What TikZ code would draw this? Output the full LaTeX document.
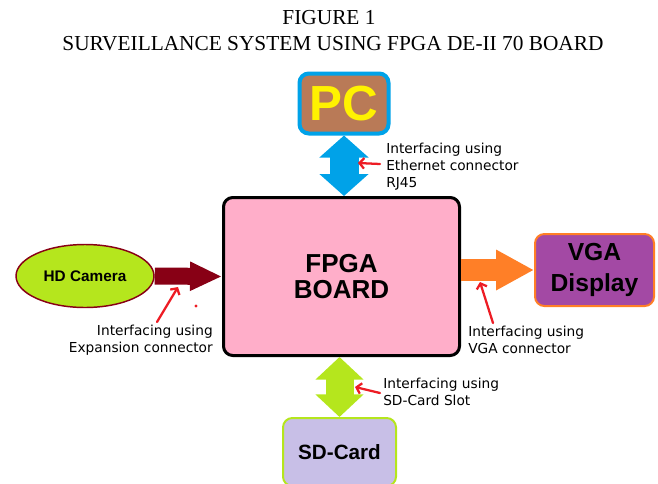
\documentclass[tikz,border=0pt]{standalone}
\usepackage{fontspec}
\setmainfont{Liberation Serif}
\newfontfamily\heavyfont{Liberation Sans}
\newfontfamily\handfont{DejaVu Sans}
\usetikzlibrary{arrows.meta,positioning,shapes.geometric}

\definecolor{pcblue}{HTML}{00A2E8}
\definecolor{pcbrown}{HTML}{B97A57}
\definecolor{pcyellow}{HTML}{FFF200}
\definecolor{boardpink}{HTML}{FFAEC9}
\definecolor{camred}{HTML}{880015}
\definecolor{camlime}{HTML}{B5E61D}
\definecolor{vgaorange}{HTML}{FF7F27}
\definecolor{vgapurple}{HTML}{A349A4}
\definecolor{sdlilac}{HTML}{C8BFE7}
\definecolor{markred}{HTML}{ED1C24}

\begin{document}
\begin{tikzpicture}[x=0.75pt,y=-0.75pt,
    node distance = 0mm,
every node/.style = {inner sep=2pt},
  box/.style     = {draw, rounded corners=7pt, inner sep=0pt, align=center,
                    font=\heavyfont\bfseries},
  note/.style    = {inner sep=0pt, font=\handfont\fontsize{10.3}{12.75}\selectfont},
  pointer/.style = {draw=markred, line width=1.7pt, line cap=round,
                    -{Straight Barb[length=3.5pt,width=8pt]}}]
\useasboundingbox (0,0) rectangle (658,483);
% title
\node (fig)   at (329,18) {\fontsize{16}{18}\selectfont FIGURE 1};
\node (title) at (333,44) {\fontsize{16}{18}\selectfont SURVEILLANCE SYSTEM USING FPGA DE-II 70 BOARD};
% blocks
\node[box, fill=boardpink, line width=2.25pt, minimum width=177pt, minimum height=118.5pt,
      font=\heavyfont\bfseries\fontsize{19.5}{18}\selectfont]
      (fpga) at (341.5,276.5) {FPGA\\[1pt]BOARD};
\node[box, fill=pcbrown, draw=pcblue, line width=3pt, minimum width=66.75pt, minimum height=45pt,
      text=pcyellow, font=\heavyfont\bfseries\fontsize{37}{37}\selectfont]
      (pc) at (344,103.5) {PC};
\node[box, fill=vgapurple, draw=vgaorange, line width=1.5pt, minimum width=89.25pt, minimum height=54pt,
      font=\heavyfont\bfseries\fontsize{18.5}{23}\selectfont]
      (vga) at (594.5,270) {VGA\\Display};
\node[box, fill=sdlilac, draw=camlime, line width=1.5pt, minimum width=84.75pt, minimum height=51pt,
      font=\heavyfont\bfseries\fontsize{15.5}{15}\selectfont]
      (sd) at (339.5,452) {SD-Card};
\node[ellipse, draw=camred, fill=camlime, line width=1.1pt, inner sep=0pt,
      minimum width=103.5pt, minimum height=47.25pt,
      font=\heavyfont\bfseries\fontsize{11.5}{12}\selectfont]
      (cam) at (85,276) {HD Camera};
% block arrows
\draw[pcblue, line width=21.75pt,
      {Triangle[width=36pt,length=16.5pt]}-{Triangle[width=36pt,length=16.5pt]}]
      (pc.south) -- (pc.south |- fpga.north);
\draw[camlime, line width=21pt,
      {Triangle[width=35.25pt,length=17pt]}-{Triangle[width=35.25pt,length=17pt]}]
      (sd.north |- fpga.south) -- (sd.north);
\draw[camred, line width=12.75pt, -{Triangle[width=20.25pt,length=24pt]}]
      (cam.east) -- (fpga.west);
\draw[vgaorange, line width=16.5pt, -{Triangle[width=28.5pt,length=28.5pt]}]
      (fpga.east |- vga.west) -- (vga.west);
% notes
\node[note, anchor=north west, align=left]  (eth) at (386,143) {Interfacing using\\Ethernet connector\\RJ45};
\node[note, anchor=north east, align=right] (exp) at (213,325) {Interfacing using\\Expansion connector};
\node[note, anchor=north west, align=left]  (vgn) at (468,326) {Interfacing using\\VGA connector};
\node[note, anchor=north west, align=left]  (sdn) at (383,378) {Interfacing using\\SD-Card Slot};
% red pointers
\coordinate (ethtail) at (380,164);  \coordinate (ethtip) at (358,163);
\coordinate (exptail) at (157,322);  \coordinate (exptip) at (178,287);
\coordinate (vgatail) at (493,323);  \coordinate (vgatip) at (480,282);
\coordinate (sdtail)  at (380,393);  \coordinate (sdtip)  at (355,387);
\draw[pointer] (ethtail) -- (ethtip);
\draw[pointer] (exptail) -- (exptip);
\draw[pointer] (vgatail) -- (vgatip);
\draw[pointer] (sdtail)  -- (sdtip);
\fill[markred] (196,306) circle (1.6);
\end{tikzpicture}
\end{document}
